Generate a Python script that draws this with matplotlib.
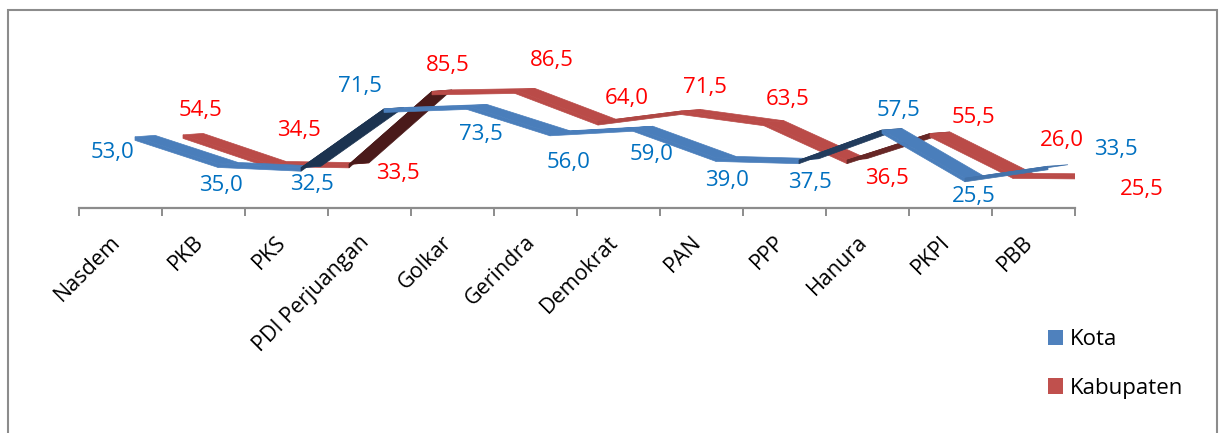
import numpy as np
import matplotlib
matplotlib.use("Agg")
import matplotlib.pyplot as plt
from matplotlib.patches import Polygon, Patch, Rectangle
from matplotlib.transforms import ScaledTranslation
from matplotlib.colors import to_rgb

# ---------------- data ----------------
categories = ["Nasdem", "PKB", "PKS", "PDI Perjuangan", "Golkar", "Gerindra",
              "Demokrat", "PAN", "PPP", "Hanura", "PKPI", "PBB"]
kota = [53.0, 35.0, 32.5, 71.5, 73.5, 56.0, 59.0, 39.0, 37.5, 57.5, 25.5, 33.5]
kabupaten = [54.5, 34.5, 33.5, 85.5, 86.5, 64.0, 71.5, 63.5, 36.5, 55.5, 26.0, 25.5]
series_names = ["Kota", "Kabupaten"]

# ---------------- layout / style ----------------
# data-label offsets in pixels (dx right, dy down) relative to each point
kota_label_off = [(-23, 14), (3, 20), (11, 15), (-24, -24), (14, 27), (19, 28),
                  (19, 25), (11, 21), (11, 20), (16, -22), (9, 16), (68, -19)]
kab_label_off = [(17, -26), (33, -34), (49, 7), (16, -28), (37, -31), (29, -25),
                 (24, -26), (24, -25), (40, 16), (43, -18), (49, -36), (46, 12)]

W, H, DPI = 1225, 433, 100
plt.rcParams['font.family'] = ['Open Sans', 'DejaVu Sans']

BLUE_FACE, BLUE_DARK, BLUE_TEXT = '#4A7EBB', '#1C3350', '#0070C0'
RED_FACE, RED_DARK, RED_TEXT = '#BA4B48', '#4A1A1A', '#FF0000'
AXIS_GRAY = '#8C8C8C'

fig = plt.figure(figsize=(W / DPI, H / DPI), dpi=DPI)


def rect(left, top, right, bottom):
    """pixel box (y measured from top) -> figure fraction rect"""
    return [left / W, (H - bottom) / H, (right - left) / W, (bottom - top) / H]


n = len(categories)

# ---------------- category axis ----------------
ax_cat = fig.add_axes(rect(79, 100, 1075, 208))
ax_cat.set_xlim(-0.5, n - 0.5)
ax_cat.set_ylim(0, 1)
ax_cat.patch.set_alpha(0)
for s in ['left', 'right', 'top']:
    ax_cat.spines[s].set_visible(False)
ax_cat.spines['bottom'].set_color(AXIS_GRAY)
ax_cat.spines['bottom'].set_linewidth(1.6)
ax_cat.set_yticks([])
ax_cat.set_xticks(np.arange(n + 1) - 0.5)
ax_cat.set_xticklabels([])
ax_cat.tick_params(axis='x', which='major', direction='out', length=6,
                   width=1.4, color=AXIS_GRAY)
ax_cat.set_xticks(np.arange(n), categories, minor=True)
ax_cat.tick_params(axis='x', which='minor', length=0, pad=17,
                   labelsize=15.5, labelrotation=45, labelcolor='black')
shift = ScaledTranslation(4 / DPI, 0, fig.dpi_scale_trans)
for lbl in ax_cat.get_xticklabels(minor=True):
    lbl.set_ha('right')
    lbl.set_va('top')
    lbl.set_transform(lbl.get_transform() + shift)

# ---------------- series axes (pseudo 3D depth) ----------------
ax_red = fig.add_axes(rect(79, 211.4 - 140.4, 1075, 211.4))
ax_blue = fig.add_axes(rect(79, 216.7 - 150.7, 1075, 216.7))
for ax in (ax_red, ax_blue):
    ax.set_xlim(-0.5, n - 0.5)
    ax.set_ylim(0, 100)
    ax.axis('off')

BLUE_SHIFT = 14.5 / 83.0
RED_SHIFT = 62.5 / 83.0
xs_blue = np.arange(n) + BLUE_SHIFT
xs_red = np.arange(n) + RED_SHIFT


def ribbon(ax, xs, vals, face, dark, depth_px=(20, 1.5), thick_px=3.5):
    bb = ax.get_position()
    w_px, h_px = bb.width * W, bb.height * H
    x0, x1 = ax.get_xlim()
    y0, y1 = ax.get_ylim()
    ppx, ppy = w_px / (x1 - x0), h_px / (y1 - y0)
    dx, dy = depth_px[0] / ppx, depth_px[1] / ppy
    th = thick_px / ppy
    f, d = np.array(to_rgb(face)), np.array(to_rgb(dark))
    for i in range(len(vals) - 1):
        xa, xb = xs[i], xs[i + 1]
        ya, yb = vals[i], vals[i + 1]
        slope = (yb - ya) * ppy / ((xb - xa) * ppx)
        t = float(np.clip((slope - 0.1) / 0.3, 0, 1))
        col = (1 - t) * f + t * d
        # front face (vertical thickness)
        ax.add_patch(Polygon([(xa, ya), (xb, yb), (xb, yb - th), (xa, ya - th)],
                             closed=True, facecolor=col, edgecolor=col, lw=0.5))
        # depth face
        ax.add_patch(Polygon([(xa, ya), (xb, yb), (xb + dx, yb + dy), (xa + dx, ya + dy)],
                             closed=True, facecolor=col, edgecolor=col, lw=0.5))


def labels(ax, xs, vals, offs, color):
    for x, v, (ox, oy) in zip(xs, vals, offs):
        ax.annotate(f"{v:.1f}".replace('.', ','), (x, v), xytext=(ox, -(oy + 7.5)),
                    textcoords='offset pixels', ha='center', va='baseline',
                    color=color, fontsize=16, annotation_clip=False)


ribbon(ax_red, xs_red, kabupaten, RED_FACE, RED_DARK)
ribbon(ax_blue, xs_blue, kota, BLUE_FACE, BLUE_DARK)
labels(ax_red, xs_red, kabupaten, kab_label_off, RED_TEXT)
labels(ax_blue, xs_blue, kota, kota_label_off, BLUE_TEXT)

# ---------------- legend ----------------
handles = [Patch(facecolor='#4F81BD', edgecolor='none', label=series_names[0]),
           Patch(facecolor='#C0504D', edgecolor='none', label=series_names[1])]
fig.legend(handles=handles, loc='upper left', bbox_to_anchor=(1048 / W, (H - 329) / H),
           frameon=False, fontsize=16, handlelength=0.68, handleheight=0.68,
           handletextpad=0.32, labelspacing=1.25, borderpad=0, borderaxespad=0)

# ---------------- outer frame ----------------
fig.add_artist(Rectangle((8 / W, -0.05), 1209 / W, (H - 10) / H + 0.05,
                         transform=fig.transFigure, fill=False,
                         edgecolor=AXIS_GRAY, lw=1.5))

fig.savefig("out.png", dpi=DPI)
